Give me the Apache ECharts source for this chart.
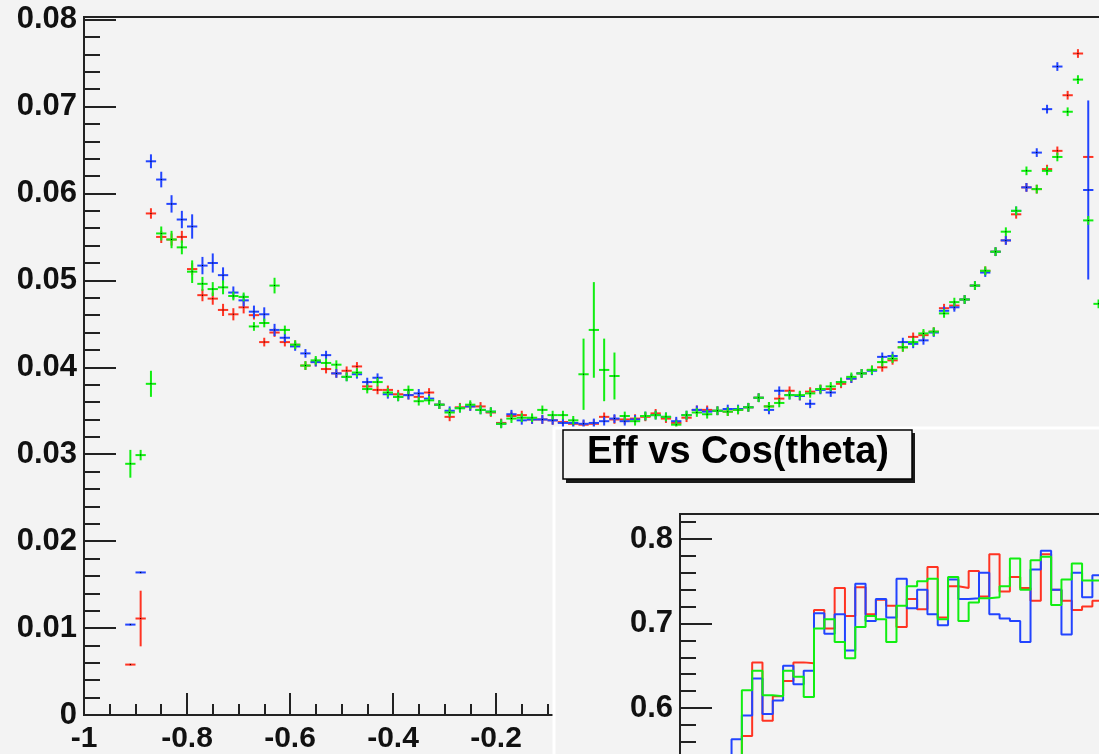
<!DOCTYPE html>
<html lang="en">
<head>
    <meta charset="UTF-8">
    <title>Eff vs Cos(theta)</title>
    <script src="https://cdn.jsdelivr.net/npm/echarts@6/dist/echarts.min.js"></script>
    <style>
        body { margin: 0; background: #f3f3f3; }
        #main { width: 1099px; height: 754px; }
    </style>
</head>
<body>
<div id="main"></div>
<script>
    // main pad: 100 bins in cos(theta) from -1 to 1, first filled bin is #4 (centre -0.91)
    const firstBin = 4;
    const binWidth = 0.02;

    const effRed = [
        0.0058, 0.0111, 0.0577, 0.0550, 0.0547, 0.0550, 0.0513, 0.0483, 0.0479, 0.0466,
        0.0461, 0.0469, 0.0460, 0.0429, 0.0440, 0.0429, 0.0426, 0.0402, 0.0406, 0.0398,
        0.0393, 0.0396, 0.0401, 0.0378, 0.0374, 0.0374, 0.0369, 0.0368, 0.0366, 0.0371,
        0.0357, 0.0343, 0.0354, 0.0355, 0.0355, 0.0348, 0.0336, 0.0344, 0.0345, 0.0340,
        0.0340, 0.0339, 0.0337, 0.0335, 0.0334, 0.0335, 0.0343, 0.0340, 0.0340, 0.0341,
        0.0343, 0.0347, 0.0341, 0.0336, 0.0342, 0.0351, 0.0351, 0.0350, 0.0349, 0.0351,
        0.0354, 0.0365, 0.0355, 0.0364, 0.0373, 0.0367, 0.0372, 0.0375, 0.0375, 0.0381,
        0.0387, 0.0393, 0.0397, 0.0400, 0.0408, 0.0423, 0.0435, 0.0437, 0.0441, 0.0468,
        0.0471, 0.0478, 0.0494, 0.0511, 0.0533, 0.0546, 0.0576, 0.0607, 0.0605, 0.0628,
        0.0649, 0.0713, 0.0761, 0.0642, null
    ];
    const effBlue = [
        0.0104, 0.0164, 0.0637, 0.0616, 0.0588, 0.0570, 0.0562, 0.0517, 0.0520, 0.0506,
        0.0486, 0.0477, 0.0464, 0.0461, 0.0443, 0.0434, 0.0424, 0.0416, 0.0406, 0.0414,
        0.0393, 0.0389, 0.0392, 0.0383, 0.0388, 0.0369, 0.0366, 0.0368, 0.0370, 0.0364,
        0.0357, 0.0350, 0.0353, 0.0355, 0.0351, 0.0349, 0.0335, 0.0346, 0.0339, 0.0340,
        0.0340, 0.0339, 0.0336, 0.0336, 0.0335, 0.0336, 0.0338, 0.0341, 0.0338, 0.0340,
        0.0344, 0.0345, 0.0343, 0.0338, 0.0345, 0.0351, 0.0349, 0.0350, 0.0352, 0.0352,
        0.0354, 0.0365, 0.0351, 0.0373, 0.0368, 0.0367, 0.0358, 0.0374, 0.0371, 0.0383,
        0.0387, 0.0393, 0.0396, 0.0412, 0.0413, 0.0429, 0.0427, 0.0431, 0.0440, 0.0465,
        0.0469, 0.0478, 0.0494, 0.0509, 0.0533, 0.0546, 0.0580, 0.0607, 0.0647, 0.0697,
        0.0746, null, null, 0.0604, null
    ];
    const effGreen = [
        0.0289, 0.0299, 0.0381, 0.0554, 0.0547, 0.0538, 0.0510, 0.0496, 0.0490, 0.0492,
        0.0482, 0.0481, 0.0447, 0.0451, 0.0494, 0.0443, 0.0426, 0.0402, 0.0408, 0.0405,
        0.0403, 0.0389, 0.0394, 0.0375, 0.0383, 0.0371, 0.0366, 0.0374, 0.0361, 0.0362,
        0.0357, 0.0348, 0.0353, 0.0357, 0.0351, 0.0349, 0.0335, 0.0341, 0.0342, 0.0342,
        0.0351, 0.0345, 0.0345, 0.0339, 0.0392, 0.0443, 0.0397, 0.0390, 0.0344, 0.0338,
        0.0344, 0.0345, 0.0343, 0.0334, 0.0345, 0.0348, 0.0346, 0.0350, 0.0349, 0.0351,
        0.0354, 0.0365, 0.0355, 0.0359, 0.0368, 0.0368, 0.0370, 0.0375, 0.0378, 0.0383,
        0.0389, 0.0393, 0.0397, 0.0406, 0.0410, 0.0423, 0.0429, 0.0439, 0.0441, 0.0462,
        0.0475, 0.0478, 0.0494, 0.0511, 0.0533, 0.0556, 0.0580, 0.0626, 0.0605, 0.0626,
        0.0642, 0.0694, 0.0731, 0.0569, 0.0473
    ];

    // errors, keyed by bin number; every other bin uses errDefault
    const errDefault = 0.0005;
    const errRed = {4: 0.0001, 5: 0.0032, 6: 0.0006, 7: 0.0007, 8: 0.0007, 9: 0.0007, 10: 0.0007,
        11: 0.0007, 12: 0.0007, 13: 0.0007, 14: 0.0007, 15: 0.0007, 97: 0.0001};
    const errBlue = {4: 0.0001, 5: 0.0001, 6: 0.0008, 7: 0.0009, 8: 0.0010, 9: 0.0010, 10: 0.0014,
        11: 0.0010, 12: 0.0011, 13: 0.0009, 14: 0.0007, 15: 0.0007, 16: 0.0007, 17: 0.0008,
        18: 0.0007, 97: 0.0103};
    const errGreen = {4: 0.0016, 5: 0.0006, 6: 0.0015, 7: 0.0008, 8: 0.0010, 9: 0.0008, 10: 0.0013,
        11: 0.0008, 12: 0.0008, 13: 0.0008, 18: 0.0009, 48: 0.0041, 49: 0.0055, 50: 0.0036, 51: 0.0027};

    // inset "Eff vs Cos(theta)" histogram contents, left to right
    const insetRed = [
        0.530, 0.567, 0.654, 0.585, 0.614, 0.632, 0.654, 0.653, 0.716, 0.694,
        0.742, 0.709, 0.743, 0.711, 0.728, 0.721, 0.696, 0.729, 0.717, 0.767,
        0.707, 0.744, 0.742, 0.762, 0.732, 0.782, 0.738, 0.755, 0.742, 0.727,
        0.782, 0.740, 0.727, 0.716, 0.720, 0.727
    ];
    const insetBlue = [
        0.563, 0.591, 0.635, 0.593, 0.609, 0.650, 0.628, 0.644, 0.712, 0.688,
        0.711, 0.668, 0.747, 0.703, 0.729, 0.707, 0.753, 0.718, 0.740, 0.711,
        0.698, 0.752, 0.729, 0.730, 0.760, 0.711, 0.706, 0.703, 0.678, 0.764,
        0.786, 0.740, 0.687, 0.760, 0.731, 0.757
    ];
    const insetGreen = [
        0.530, 0.621, 0.644, 0.615, 0.614, 0.644, 0.637, 0.613, 0.694, 0.705,
        0.678, 0.659, 0.696, 0.709, 0.705, 0.678, 0.721, 0.744, 0.750, 0.753,
        0.705, 0.755, 0.703, 0.725, 0.730, 0.731, 0.744, 0.777, 0.740, 0.775,
        0.779, 0.722, 0.752, 0.771, 0.751, 0.751
    ];
    const insetFirstEdge = 5;   // in inset axis units (one unit = one bin)
    const insetYMin = 0.5;

    const RED = '#ff3322', BLUE = '#2244ff', GREEN = '#11ee11';
    const AXIS = '#222';
    const FONT = 'Liberation Sans';

    function pointsFor(values, errs) {
        let out = [];
        values.forEach(function (v, k) {
            if (v === null) return;
            let bin = firstBin + k;
            let x = -1 + binWidth * (bin + 0.5);
            let e = errs[bin] !== undefined ? errs[bin] : errDefault;
            out.push([x, v, e]);
        });
        return out;
    }

    function crossItem(color) {
        return function (params, api) {
            let x = api.value(0), y = api.value(1), e = api.value(2);
            let pl = api.coord([x - binWidth / 2, y]);
            let pr = api.coord([x + binWidth / 2, y]);
            let pt = api.coord([x, y + e]);
            let pb = api.coord([x, y - e]);
            return {
                type: 'group',
                children: [
                    {type: 'line', shape: {x1: pl[0], y1: pl[1], x2: pr[0], y2: pr[1]},
                        style: {stroke: color, lineWidth: 2}},
                    {type: 'line', shape: {x1: pt[0], y1: pt[1], x2: pb[0], y2: pb[1]},
                        style: {stroke: color, lineWidth: 2}},
                    {type: 'rect', shape: {x: pt[0] - 0.5, y: pl[1] - 0.5, width: 1, height: 1},
                        style: {fill: '#000'}}
                ]
            };
        };
    }

    function stepPoints(values) {
        let pts = [[insetFirstEdge, insetYMin]];
        values.forEach(function (v, k) {
            pts.push([insetFirstEdge + k, v]);
        });
        pts.push([insetFirstEdge + values.length, values[values.length - 1]]);
        return pts;
    }

    function crossSeries(name, values, errs, color) {
        return {
            name: name,
            type: 'custom',
            xAxisIndex: 0,
            yAxisIndex: 0,
            renderItem: crossItem(color),
            data: pointsFor(values, errs),
            encode: {x: 0, y: 1},
            animation: false
        };
    }

    function histSeries(name, values, color) {
        return {
            name: name,
            type: 'line',
            xAxisIndex: 1,
            yAxisIndex: 1,
            step: 'end',
            showSymbol: false,
            zlevel: 1,
            z: 3,
            lineStyle: {color: color, width: 2},
            data: stepPoints(values),
            animation: false
        };
    }

    let myChart = echarts.init(document.getElementById('main'));
    let option = {
        backgroundColor: '#f3f3f3',
        animation: false,
        grid: [
            {left: 84, top: 17, right: -15, bottom: 39, show: true, outerBoundsMode: 'none',
                backgroundColor: '#f3f3f3', borderColor: AXIS, borderWidth: 2},
            {left: 680, top: 514, right: -14, bottom: -38.5, show: true, outerBoundsMode: 'none',
                backgroundColor: 'transparent', borderColor: AXIS, borderWidth: 2, zlevel: 1, z: 2}
        ],
        xAxis: [
            {
                gridIndex: 0, type: 'value', min: -1, max: 1, interval: 0.2,
                axisLine: {show: true, onZero: false, lineStyle: {color: AXIS, width: 2}},
                axisTick: {show: true, inside: true, length: 22, lineStyle: {color: AXIS, width: 2}},
                minorTick: {show: true, splitNumber: 4, length: 11, lineStyle: {color: AXIS, width: 2}},
                splitLine: {show: false},
                axisLabel: {
                    margin: 9, color: '#111', fontSize: 30, fontWeight: 'bold', fontFamily: FONT,
                    formatter: function (v) { return String(Math.round(v * 10) / 10); }
                }
            },
            {gridIndex: 1, type: 'value', min: 0, max: 42, show: false, zlevel: 1}
        ],
        yAxis: [
            {
                gridIndex: 0, type: 'value', min: 0, max: 0.0803, interval: 0.01,
                axisLine: {show: true, onZero: false, lineStyle: {color: AXIS, width: 2}},
                axisTick: {show: true, inside: true, length: 32, lineStyle: {color: AXIS, width: 2}},
                minorTick: {show: true, splitNumber: 5, length: 16, lineStyle: {color: AXIS, width: 2}},
                splitLine: {show: false},
                axisLabel: {
                    margin: 7, color: '#111', fontSize: 31, fontWeight: 'bold', fontFamily: FONT,
                    formatter: function (v) {
                        let r = Math.round(v * 100);
                        if (Math.abs(v * 100 - r) > 1e-6) return '';
                        return r === 0 ? '0' : (r / 100).toFixed(2);
                    }
                }
            },
            {
                gridIndex: 1, type: 'value', min: insetYMin, max: 0.8296, interval: 0.1, zlevel: 1, z: 2,
                axisLine: {show: true, onZero: false, lineStyle: {color: AXIS, width: 2}},
                axisTick: {show: true, inside: true, length: 32, lineStyle: {color: AXIS, width: 2}},
                minorTick: {show: true, splitNumber: 5, length: 16, lineStyle: {color: AXIS, width: 2}},
                splitLine: {show: false},
                axisLabel: {
                    margin: 7, color: '#111', fontSize: 31, fontWeight: 'bold', fontFamily: FONT,
                    formatter: function (v) {
                        let r = Math.round(v * 10);
                        if (Math.abs(v * 10 - r) > 1e-6) return '';
                        return (r / 10).toFixed(1);
                    }
                }
            }
        ],
        graphic: [
            // inset pad, drawn over the lower right corner of the main pad
            {type: 'rect', zlevel: 1, z: 0, silent: true,
                shape: {x: 553, y: 427, width: 600, height: 400}, style: {fill: '#f3f3f3'}},
            {type: 'line', zlevel: 1, z: 1, silent: true,
                shape: {x1: 553, y1: 428, x2: 1099, y2: 428}, style: {stroke: '#ffffff', lineWidth: 3}},
            {type: 'line', zlevel: 1, z: 1, silent: true,
                shape: {x1: 554, y1: 427, x2: 554, y2: 754}, style: {stroke: '#ffffff', lineWidth: 3}},
            // title box with its shadow
            {type: 'rect', zlevel: 1, z: 5, silent: true,
                shape: {x: 566, y: 433, width: 349, height: 50}, style: {fill: '#1a1a1a'}},
            {type: 'rect', zlevel: 1, z: 6, silent: true,
                shape: {x: 563, y: 430, width: 349, height: 49},
                style: {fill: '#f3f3f3', stroke: '#000', lineWidth: 1.5}},
            {type: 'text', zlevel: 1, z: 7, silent: true, x: 738, y: 453,
                style: {text: 'Eff vs Cos(theta)', fill: '#000', fontSize: 38, fontWeight: 'bold',
                    fontFamily: FONT, align: 'center', verticalAlign: 'middle'}}
        ],
        series: [
            crossSeries('red', effRed, errRed, RED),
            crossSeries('blue', effBlue, errBlue, BLUE),
            crossSeries('green', effGreen, errGreen, GREEN),
            histSeries('red inset', insetRed, RED),
            histSeries('blue inset', insetBlue, BLUE),
            histSeries('green inset', insetGreen, GREEN)
        ]
    };
    myChart.setOption(option);
</script>
</body>
</html>
